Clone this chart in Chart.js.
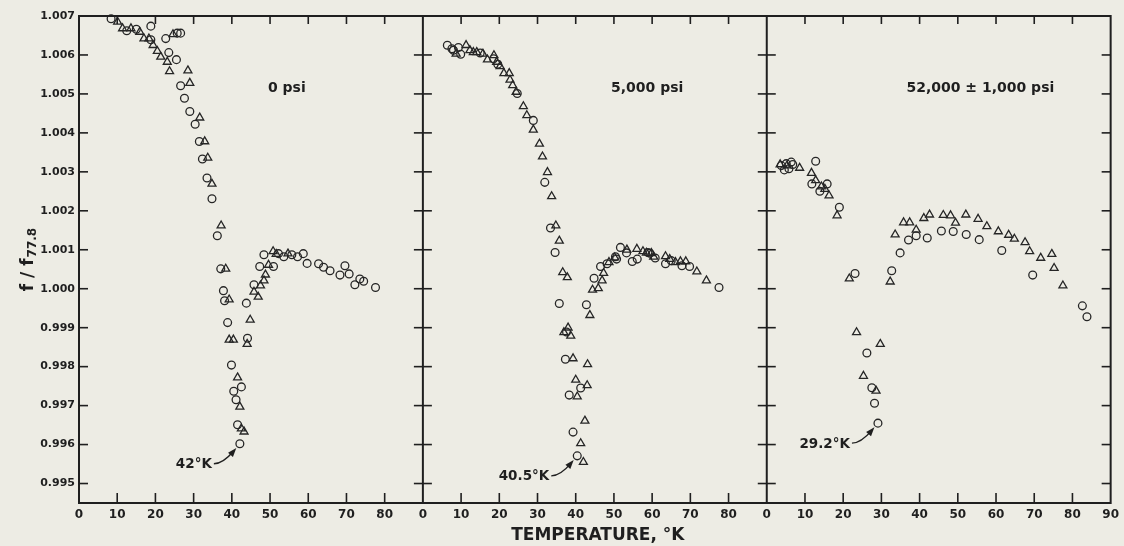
<!DOCTYPE html>
<html>
<head>
<meta charset="utf-8">
<script src="https://cdn.jsdelivr.net/npm/chart.js@4.4.1/dist/chart.umd.min.js"></script>
<style>
  html, body { margin: 0; padding: 0; background: #edece4; }
  #wrap { width: 1124px; height: 546px; }
</style>
</head>
<body>
<div id="wrap"><canvas id="chart" width="1124" height="546"></canvas></div>
<script>
// three pressure panels side by side, sharing one y axis
const panelNames = ['0 psi', '5,000 psi', '52,000 \u00b1 1,000 psi'];
const panelTicks = [
  [0, 10, 20, 30, 40, 50, 60, 70, 80],
  [0, 10, 20, 30, 40, 50, 60, 70, 80],
  [0, 10, 20, 30, 40, 50, 60, 70, 80, 90]
];
const yTicks = [0.995, 0.996, 0.997, 0.998, 0.999, 1.000, 1.001, 1.002, 1.003, 1.004, 1.005, 1.006, 1.007];

// [temperature °K, f/f77.8]
const circles0 = [[8.4,1.00693],[12.5,1.00662],[15.0,1.00666],[18.8,1.00674],[18.8,1.00639],[22.7,1.00642],[23.5,1.00606],[25.5,1.00588],[25.7,1.00656],[26.6,1.00656],[26.6,1.00521],[27.6,1.00489],[29.0,1.00455],[30.4,1.00422],[31.5,1.00378],[32.3,1.00333],[33.5,1.00284],[34.8,1.00231],[36.2,1.00136],[37.1,1.00051],[37.8,0.99995],[38.1,0.99969],[38.9,0.99913],[39.9,0.99804],[40.5,0.99737],[41.1,0.99715],[42.5,0.99748],[41.5,0.99651],[42.1,0.99602],[43.8,0.99963],[44.1,0.99873],[45.8,1.0001],[47.3,1.00057],[48.4,1.00087],[50.9,1.00057],[52.2,1.0009],[53.6,1.00082],[55.7,1.00087],[57.2,1.00082],[58.7,1.0009],[59.7,1.00065],[62.7,1.00064],[64.0,1.00055],[65.7,1.00046],[68.3,1.00035],[69.6,1.00059],[70.7,1.00038],[72.2,1.0001],[73.5,1.00025],[74.5,1.00019],[77.6,1.00003]];
const triangles0 = [[10.1,1.00685],[11.4,1.00668],[13.6,1.00668],[15.9,1.00659],[17.0,1.00642],[18.3,1.00642],[19.4,1.00625],[20.5,1.0061],[21.4,1.00595],[23.1,1.00582],[23.7,1.00558],[24.6,1.00653],[28.5,1.0056],[29.0,1.00528],[31.6,1.00439],[32.9,1.00378],[33.7,1.00336],[34.8,1.00269],[37.2,1.00162],[38.4,1.00051],[39.3,0.99972],[39.3,0.99869],[40.4,0.99869],[41.5,0.99772],[42.1,0.99697],[42.5,0.99641],[43.2,0.99633],[44.8,0.9992],[44.0,0.99858],[45.8,0.99992],[46.9,0.99979],[47.5,1.00008],[48.4,1.00021],[48.8,1.00036],[49.6,1.00061],[50.8,1.00096],[51.6,1.00089],[54.7,1.0009]];

const circles5k = [[6.4,1.00625],[7.6,1.00616],[8.0,1.00612],[9.3,1.00619],[9.9,1.00602],[15.0,1.00605],[18.5,1.0059],[19.6,1.00576],[24.7,1.00501],[28.9,1.00432],[31.9,1.00273],[33.4,1.00156],[34.6,1.00093],[35.7,0.99962],[37.6,0.99889],[37.3,0.99819],[38.3,0.99727],[39.3,0.99632],[40.4,0.99571],[41.3,0.99745],[42.8,0.99959],[44.8,1.00027],[46.5,1.00057],[48.2,1.00064],[50.4,1.00082],[50.7,1.00076],[51.7,1.00106],[53.3,1.00092],[54.8,1.0007],[56.1,1.00076],[58.9,1.00093],[59.4,1.00091],[60.8,1.00079],[63.5,1.00064],[65.0,1.00072],[67.8,1.00059],[69.8,1.00057],[77.5,1.00003]];
const triangles5k = [[8.7,1.00603],[11.3,1.00625],[12.3,1.00612],[13.2,1.00607],[14.1,1.00607],[15.7,1.00603],[16.9,1.00588],[18.6,1.00599],[19.3,1.00582],[20.2,1.00571],[21.2,1.00553],[22.6,1.00553],[22.8,1.00536],[23.5,1.00522],[24.4,1.00505],[26.3,1.00468],[27.2,1.00445],[28.9,1.00408],[30.5,1.00372],[31.3,1.00339],[32.6,1.00299],[33.7,1.00237],[34.8,1.00162],[35.7,1.00123],[36.6,1.00042],[37.8,1.00029],[36.9,0.99888],[38.0,0.999],[38.7,0.99879],[39.3,0.99821],[40.0,0.99766],[40.4,0.99723],[42.4,0.99661],[41.3,0.99603],[42.0,0.99555],[43.0,0.99752],[43.1,0.99806],[43.7,0.99932],[44.4,0.99997],[45.9,1.00001],[46.9,1.00021],[47.3,1.0004],[48.7,1.00068],[50.2,1.0008],[53.4,1.001],[56.0,1.00102],[57.6,1.00096],[58.5,1.00092],[59.8,1.00091],[60.4,1.00082],[63.5,1.00083],[64.6,1.00076],[66.1,1.00068],[67.4,1.0007],[68.8,1.0007],[71.7,1.00044],[74.2,1.00021]];

const circles52k = [[3.8,1.00316],[4.6,1.00305],[5.1,1.00321],[5.8,1.00308],[6.4,1.00325],[6.8,1.00319],[12.8,1.00327],[11.8,1.00269],[13.9,1.0025],[15.8,1.00269],[19.0,1.00209],[23.1,1.00039],[26.2,0.99835],[27.5,0.99746],[28.2,0.99706],[29.1,0.99655],[32.7,1.00046],[34.9,1.00092],[37.1,1.00125],[39.1,1.00136],[42.0,1.0013],[45.7,1.00148],[48.8,1.00147],[52.2,1.00139],[55.6,1.00126],[61.5,1.00098],[69.6,1.00035],[82.6,0.99956],[83.8,0.99928]];
const triangles52k = [[3.5,1.00319],[5.3,1.00316],[8.6,1.0031],[11.7,1.00297],[12.8,1.00278],[14.3,1.00262],[15.2,1.00256],[16.3,1.00239],[18.4,1.00188],[21.6,1.00026],[23.5,0.99888],[25.3,0.99776],[28.6,0.99738],[29.7,0.99858],[32.3,1.00018],[33.6,1.00139],[35.8,1.0017],[37.4,1.0017],[39.1,1.00151],[41.1,1.00181],[42.6,1.0019],[46.2,1.00189],[48.1,1.00188],[49.4,1.00169],[52.1,1.0019],[55.3,1.00179],[57.6,1.0016],[60.6,1.00147],[63.3,1.00138],[64.8,1.00128],[67.6,1.00119],[68.8,1.00096],[71.7,1.00079],[74.6,1.00089],[75.2,1.00053],[77.5,1.00008]];

// minimum of each panel, marked with an arrow
const minima = [
  { panel: 0, t: 42.1, v: 0.99602, text: '42\u00b0K' },
  { panel: 1, t: 40.4, v: 0.99571, text: '40.5\u00b0K' },
  { panel: 2, t: 29.1, v: 0.99655, text: '29.2\u00b0K' }
];

const PANEL_W = 90;
const ink = '#1f1f1f';
const FONT = '"DejaVu Sans", sans-serif';

const xTickList = [];
panelTicks.forEach((ticks, i) => ticks.forEach(t => xTickList.push({ value: i * PANEL_W + t, label: String(t) })));

function toPts(arr, panel) {
  return arr.map(p => ({ x: panel * PANEL_W + p[0], y: p[1] }));
}
function ds(arr, panel, style) {
  return {
    data: toPts(arr, panel),
    pointStyle: style,
    pointRadius: style === 'triangle' ? 4.6 : 3.9,
    pointBorderWidth: 1.3,
    borderColor: '#262626',
    backgroundColor: 'rgba(0,0,0,0)',
    clip: 8
  };
}

function line(ctx, x1, y1, x2, y2) {
  ctx.beginPath(); ctx.moveTo(x1, y1); ctx.lineTo(x2, y2); ctx.stroke();
}

const frame = {
  id: 'frame',
  afterDraw(chart) {
    const ctx = chart.ctx, xs = chart.scales.x, ys = chart.scales.y;
    const { left, right, top, bottom } = chart.chartArea;
    ctx.save();
    ctx.strokeStyle = ink;
    ctx.fillStyle = ink;
    ctx.lineWidth = 2;
    ctx.strokeRect(left, top, right - left, bottom - top);
    const dividers = [1, 2].map(i => xs.getPixelForValue(i * PANEL_W));
    dividers.forEach(d => line(ctx, d, top, d, bottom));

    // inward ticks
    ctx.lineWidth = 1.6;
    xTickList.forEach(t => {
      if (t.value % PANEL_W === 0) return;
      const x = xs.getPixelForValue(t.value);
      line(ctx, x, top, x, top + 8);
      line(ctx, x, bottom, x, bottom - 10);
    });
    yTicks.forEach(v => {
      if (v >= ys.max - 1e-9) return;
      const y = ys.getPixelForValue(v);
      line(ctx, left, y, left + 9, y);
      line(ctx, right - 9, y, right, y);
      dividers.forEach(d => line(ctx, d - 9, y, d + 9, y));
    });

    // panel labels
    ctx.font = 'bold 14px ' + FONT;
    ctx.textAlign = 'center';
    ctx.textBaseline = 'middle';
    const labelT = [54.4, 58.7, 55.9];
    panelNames.forEach((name, i) => {
      ctx.fillText(name, xs.getPixelForValue(i * PANEL_W + labelT[i]), ys.getPixelForValue(1.00514));
    });

    // minimum markers
    ctx.font = 'bold 13.5px ' + FONT;
    ctx.textAlign = 'right';
    minima.forEach(m => {
      const px = xs.getPixelForValue(m.panel * PANEL_W + m.t);
      const py = ys.getPixelForValue(m.v);
      const tx = px - 28, ty = py + 21;
      ctx.fillText(m.text, tx, ty);
      const sx = tx + 2, sy = ty - 1;
      const cx = sx + 9, cy = sy;
      let dx = px - cx, dy = py - cy;
      const len = Math.hypot(dx, dy);
      dx /= len; dy /= len;
      const tipX = px - dx * 5.5, tipY = py - dy * 5.5;
      ctx.lineWidth = 1.4;
      ctx.beginPath();
      ctx.moveTo(sx, sy);
      ctx.quadraticCurveTo(cx, cy, tipX - dx * 4, tipY - dy * 4);
      ctx.stroke();
      const nx = -dy, ny = dx;
      ctx.beginPath();
      ctx.moveTo(tipX, tipY);
      ctx.lineTo(tipX - dx * 9 + nx * 3.2, tipY - dy * 9 + ny * 3.2);
      ctx.lineTo(tipX - dx * 9 - nx * 3.2, tipY - dy * 9 - ny * 3.2);
      ctx.closePath();
      ctx.fill();
    });

    // axis titles
    ctx.font = 'bold 17px ' + FONT;
    ctx.textAlign = 'center';
    ctx.textBaseline = 'middle';
    ctx.fillText('TEMPERATURE, \u00b0K', (left + right) / 2 + 3, 536);

    ctx.save();
    ctx.translate(33, 260);
    ctx.rotate(-Math.PI / 2);
    ctx.textAlign = 'left';
    ctx.textBaseline = 'alphabetic';
    const main = 'f / f', sub = '77.8';
    ctx.font = 'bold 17px ' + FONT;
    const w1 = ctx.measureText(main).width;
    ctx.font = 'bold 12px ' + FONT;
    const w2 = ctx.measureText(sub).width;
    const start = -(w1 + w2) / 2;
    ctx.font = 'bold 17px ' + FONT;
    ctx.fillText(main, start, 0);
    ctx.font = 'bold 12px ' + FONT;
    ctx.fillText(sub, start + w1 + 1, 3);
    ctx.restore();

    ctx.restore();
  }
};

new Chart(document.getElementById('chart'), {
  type: 'scatter',
  data: {
    datasets: [
      ds(circles0, 0, 'circle'), ds(triangles0, 0, 'triangle'),
      ds(circles5k, 1, 'circle'), ds(triangles5k, 1, 'triangle'),
      ds(circles52k, 2, 'circle'), ds(triangles52k, 2, 'triangle')
    ]
  },
  options: {
    responsive: false,
    animation: false,
    devicePixelRatio: 1,
    layout: { padding: { left: 0, top: 16, right: 12, bottom: 0 } },
    plugins: { legend: { display: false }, tooltip: { enabled: false } },
    scales: {
      x: {
        type: 'linear',
        min: 0,
        max: PANEL_W * 3,
        grid: { display: false, drawTicks: false },
        border: { display: false },
        afterBuildTicks: s => { s.ticks = xTickList.map(t => ({ value: t.value })); },
        afterFit: s => { s.height = 43; },
        ticks: {
          autoSkip: false,
          maxRotation: 0,
          padding: 5,
          color: ink,
          font: { family: FONT, size: 12, weight: 'bold' },
          callback: (v, i) => xTickList[i] ? xTickList[i].label : ''
        }
      },
      y: {
        type: 'linear',
        min: 0.9945,
        max: 1.007,
        grid: { display: false, drawTicks: false },
        border: { display: false },
        afterBuildTicks: s => { s.ticks = yTicks.map(v => ({ value: v })); },
        afterFit: s => { s.width = 79; },
        ticks: {
          padding: 4,
          color: ink,
          font: { family: FONT, size: 11, weight: 'bold' },
          callback: v => v.toFixed(3)
        }
      }
    }
  },
  plugins: [frame]
});
</script>
</body>
</html>
